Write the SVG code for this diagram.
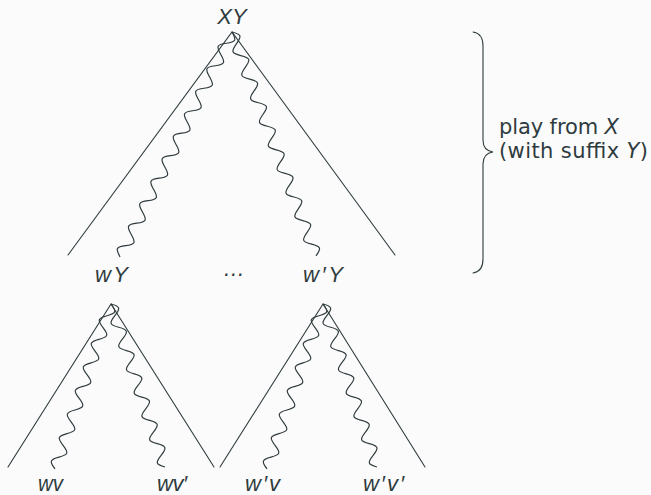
<svg xmlns="http://www.w3.org/2000/svg" width="651" height="495" viewBox="0 0 651 495">
<style>
.ln{fill:none;stroke:#2f3b3e;stroke-width:1.1;stroke-linecap:round}
.wv{fill:none;stroke:#2f3b3e;stroke-width:1.2;stroke-linejoin:round}
.m{font-family:"Liberation Sans",Arial,sans-serif;font-style:italic;font-size:22px;fill:#2f3b3e}
.t{font-family:"DejaVu Sans","Liberation Sans",sans-serif;font-size:21px;fill:#2f3b3e}
</style>
<rect width="651" height="495" fill="#fbfbfb"/>
<g id="node-XY">
<polyline class="ln" points="68,255 232,32 395,255"/>
<text class="m" x="232" y="24" text-anchor="middle" font-size="23">XY</text>
</g>
<g id="node-wY">
<polyline class="ln" points="8,467 111,304 214,467"/>
<text class="m" x="95" y="282" textLength="33" lengthAdjust="spacing">wY</text>
</g>
<g id="node-dots">
<text class="m" x="223" y="276" font-size="17" font-style="normal">…</text>
</g>
<g id="node-w1Y">
<polyline class="ln" points="220,467 323,304 425,467"/>
<text class="m" x="303" y="282" textLength="40" lengthAdjust="spacing">w′Y</text>
</g>
<g id="node-wv"><text class="m" x="38" y="491" textLength="25" lengthAdjust="spacingAndGlyphs">wv</text></g>
<g id="node-wv1"><text class="m" x="157" y="491" textLength="30" lengthAdjust="spacing">wv′</text></g>
<g id="node-w1v"><text class="m" x="245" y="491" textLength="35" lengthAdjust="spacing">w′v</text></g>
<g id="node-w1v1"><text class="m" x="363" y="491" textLength="41" lengthAdjust="spacing">w′v′</text></g>
<g id="connectors">
<path class="wv" vector-effect="non-scaling-stroke" transform="translate(232,32) rotate(116.46) scale(1.005,1)" d="M0,0 c5.3,-8 7.2,-8 12.5,0 s7.2,8 12.5,0 s7.2,-8 12.5,0 s7.2,8 12.5,0 s7.2,-8 12.5,0 s7.2,8 12.5,0 s7.2,-8 12.5,0 s7.2,8 12.5,0 s7.2,-8 12.5,0 s7.2,8 12.5,0 s7.2,-8 12.5,0 s7.2,8 12.5,0 s7.2,-8 12.5,0 s7.2,8 12.5,0 s7.2,-8 12.5,0 s7.2,8 12.5,0 s7.2,-8 12.5,0 s7.2,8 12.5,0 s7.2,-8 12.5,0 s7.2,8 12.5,0"/>
<path class="wv" vector-effect="non-scaling-stroke" transform="translate(232,32) rotate(69.44) scale(1.007,1)" d="M0,0 c5.3,-8 7.2,-8 12.5,0 s7.2,8 12.5,0 s7.2,-8 12.5,0 s7.2,8 12.5,0 s7.2,-8 12.5,0 s7.2,8 12.5,0 s7.2,-8 12.5,0 s7.2,8 12.5,0 s7.2,-8 12.5,0 s7.2,8 12.5,0 s7.2,-8 12.5,0 s7.2,8 12.5,0 s7.2,-8 12.5,0 s7.2,8 12.5,0 s7.2,-8 12.5,0 s7.2,8 12.5,0 s7.2,-8 12.5,0 s7.2,8 12.5,0 s7.2,-8 12.5,0"/>
<path class="wv" vector-effect="non-scaling-stroke" transform="translate(111,304) rotate(108.74) scale(0.995,1)" d="M0,0 c5.3,-8 7.2,-8 12.5,0 s7.2,8 12.5,0 s7.2,-8 12.5,0 s7.2,8 12.5,0 s7.2,-8 12.5,0 s7.2,8 12.5,0 s7.2,-8 12.5,0 s7.2,8 12.5,0 s7.2,-8 12.5,0 s7.2,8 12.5,0 s7.2,-8 12.5,0 s7.2,8 12.5,0 s7.2,-8 12.5,0 s7.2,8 12.5,0"/>
<path class="wv" vector-effect="non-scaling-stroke" transform="translate(111,304) rotate(71.67) scale(0.981,1)" d="M0,0 c5.3,-8 7.2,-8 12.5,0 s7.2,8 12.5,0 s7.2,-8 12.5,0 s7.2,8 12.5,0 s7.2,-8 12.5,0 s7.2,8 12.5,0 s7.2,-8 12.5,0 s7.2,8 12.5,0 s7.2,-8 12.5,0 s7.2,8 12.5,0 s7.2,-8 12.5,0 s7.2,8 12.5,0 s7.2,-8 12.5,0 s7.2,8 12.5,0"/>
<path class="wv" vector-effect="non-scaling-stroke" transform="translate(323,304) rotate(108.74) scale(0.995,1)" d="M0,0 c5.3,-8 7.2,-8 12.5,0 s7.2,8 12.5,0 s7.2,-8 12.5,0 s7.2,8 12.5,0 s7.2,-8 12.5,0 s7.2,8 12.5,0 s7.2,-8 12.5,0 s7.2,8 12.5,0 s7.2,-8 12.5,0 s7.2,8 12.5,0 s7.2,-8 12.5,0 s7.2,8 12.5,0 s7.2,-8 12.5,0 s7.2,8 12.5,0"/>
<path class="wv" vector-effect="non-scaling-stroke" transform="translate(323,304) rotate(71.67) scale(0.981,1)" d="M0,0 c5.3,-8 7.2,-8 12.5,0 s7.2,8 12.5,0 s7.2,-8 12.5,0 s7.2,8 12.5,0 s7.2,-8 12.5,0 s7.2,8 12.5,0 s7.2,-8 12.5,0 s7.2,8 12.5,0 s7.2,-8 12.5,0 s7.2,8 12.5,0 s7.2,-8 12.5,0 s7.2,8 12.5,0 s7.2,-8 12.5,0 s7.2,8 12.5,0"/>
</g>
<g id="brace">
<path class="ln" d="M473,32 C480,33 483,38 483,46 L483,140 C483,147 486,151 493,152 C486,153 483,157 483,164 L483,259 C483,267 480,272 473,273"/>
<text class="t" x="499" y="134" textLength="120" lengthAdjust="spacing">play from <tspan font-style="italic">X</tspan></text>
<text class="t" x="499" y="158" textLength="149" lengthAdjust="spacing">(with suffix <tspan font-style="italic">Y</tspan>)</text>
</g>
</svg>
